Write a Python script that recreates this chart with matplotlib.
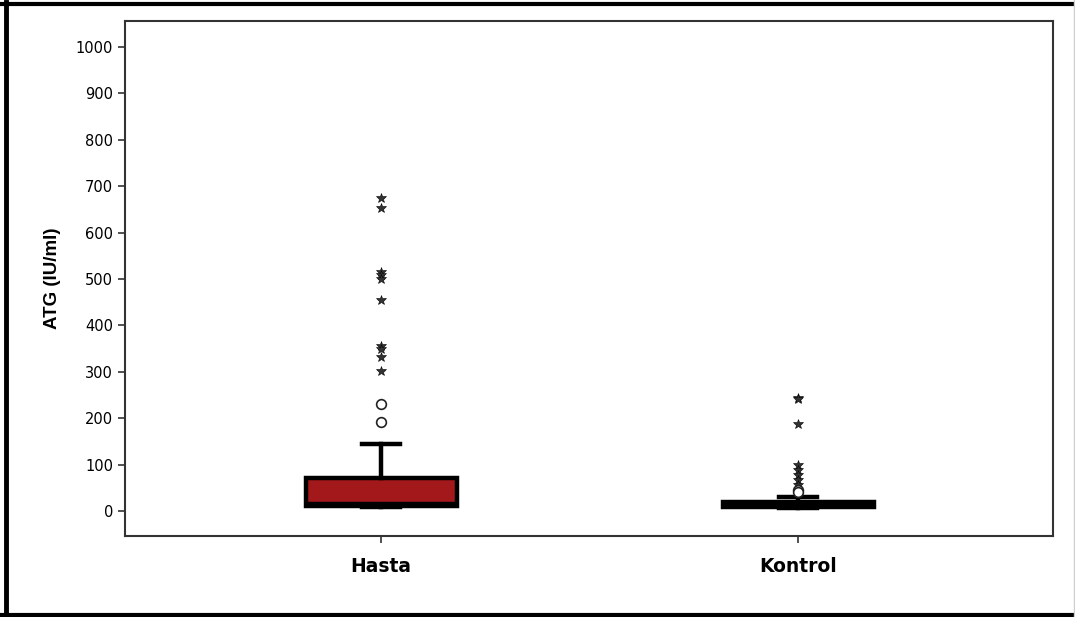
import matplotlib.pyplot as plt
from matplotlib.lines import Line2D

# ATG degerleri: hasta ve kontrol gruplari
groups = ['Hasta', 'Kontrol']
q1 = [10, 9]
medians = [14, 12]
q3 = [70, 20]
whis_lo = [8, 7]
whis_hi = [144, 31]

# asiri uc degerler (yildiz) ve uc degerler (daire)
extremes = [
    [674, 653, 515, 508, 500, 455, 356, 349, 332, 302],
    [244, 242, 187, 99, 88, 77, 67, 56],
]
outliers = [
    [231, 192],
    [45, 40],
]

yticks = list(range(0, 1001, 100))

fig = plt.figure(figsize=(10.75, 6.17), dpi=100)
ax = fig.add_axes([0.1163, 0.1313, 0.8632, 0.8347])

stats = []
for i, g in enumerate(groups):
    stats.append(dict(label=g, q1=q1[i], med=medians[i], q3=q3[i],
                      whislo=whis_lo[i], whishi=whis_hi[i], fliers=[]))

pos = [1, 2]
ax.bxp(stats, positions=pos, widths=0.362, capwidths=0.09,
       patch_artist=True, showfliers=False,
       boxprops=dict(facecolor='#a3181b', edgecolor='black', linewidth=3.2),
       medianprops=dict(color='black', linewidth=3.2),
       whiskerprops=dict(color='black', linewidth=3.2),
       capprops=dict(color='black', linewidth=3.2))

for p, ext, out in zip(pos, extremes, outliers):
    ax.plot([p] * len(ext), ext, linestyle='none', marker='*',
            markersize=7, markerfacecolor='#333333', markeredgecolor='black',
            markeredgewidth=0.4)
    ax.plot([p] * len(out), out, linestyle='none', marker='o',
            markersize=7, markerfacecolor='white', markeredgecolor='#222222',
            markeredgewidth=1.2)

ax.set_xlim(0.386, 2.611)
ax.set_ylim(-54, 1056)
ax.set_yticks(yticks)
ax.set_yticklabels([str(t) for t in yticks], fontsize=10.5)
ax.set_xticks(pos)
ax.set_xticklabels(groups, fontsize=13.5, fontweight='bold')
ax.tick_params(axis='both', length=5, width=1.2, color='#333333')
ax.tick_params(axis='x', pad=10)
ax.set_ylabel('ATG (IU/ml)', fontsize=13.5, fontweight='bold',
              family='Liberation Sans', labelpad=11)
for s in ax.spines.values():
    s.set_linewidth(1.5)
    s.set_color('#333333')

# cerceve
fig.add_artist(Line2D([0.0055, 0.0055], [0.003, 0.997], color='black',
                      linewidth=3.5, transform=fig.transFigure))
fig.add_artist(Line2D([0.0, 1.0], [0.9935, 0.9935], color='black',
                      linewidth=3.0, transform=fig.transFigure))
fig.add_artist(Line2D([0.0, 1.0], [0.0035, 0.0035], color='black',
                      linewidth=3.0, transform=fig.transFigure))
fig.add_artist(Line2D([0.999, 0.999], [0.0, 1.0], color='#cccccc',
                      linewidth=1.0, transform=fig.transFigure))

fig.savefig('out.png', dpi=100)
